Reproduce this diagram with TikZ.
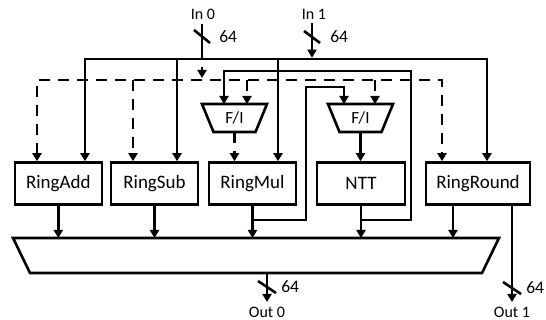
\documentclass[tikz,border=0pt]{standalone}
\usepackage{fontspec}
\setmainfont{Carlito}
\usetikzlibrary{arrows.meta,calc}
\begin{document}
\begin{tikzpicture}[x=1pt,y=-1pt,
  line width=2.6pt, line cap=butt, line join=miter,
  >={Triangle[length=8pt,width=9pt]},
  blk/.style={draw, minimum height=42pt, inner sep=0pt, font=\fontsize{19}{19}\selectfont},
  fibox/.style={minimum width=65pt, minimum height=28pt, inner sep=0pt, outer sep=0pt, font=\fontsize{17}{17}\selectfont},
  muxbox/.style={minimum width=486pt, minimum height=35pt, inner sep=0pt, outer sep=0pt},
  dsh/.style={dash pattern=on 11pt off 8pt},
  lab/.style={inner sep=0pt, font=\fontsize{16}{16}\selectfont},
  wlab/.style={inner sep=0pt, font=\fontsize{17.5}{17.5}\selectfont},
  slash/.style={line width=2.6pt}]
\useasboundingbox (0,0) rectangle (546,320);

% blocks
\node[blk, minimum width=87pt] (add) at (58.3,183.5) {RingAdd};
\node[blk, minimum width=87pt] (sub) at (154.5,183.5) {RingSub};
\node[blk, minimum width=87pt] (mul) at (252.5,183.5) {RingMul};
\node[blk, minimum width=88pt] (ntt) at (361,183.5) {NTT};
\node[blk, minimum width=104pt] (rnd) at (478,183.5) {RingRound};

% F/I units
\node[fibox] (fi1) at (234.5,118) {F/I};
\draw (fi1.north west) -- (fi1.north east) -- ($(fi1.south east)+(-11.5,0)$) -- ($(fi1.south west)+(11.5,0)$) -- cycle;
\node[fibox] (fi2) at (360.5,118) {F/I};
\draw (fi2.north west) -- (fi2.north east) -- ($(fi2.south east)+(-11.5,0)$) -- ($(fi2.south west)+(11.5,0)$) -- cycle;

% output mux
\node[muxbox] (mux) at (256,255.5) {};
\draw (mux.north west) -- (mux.north east) -- ($(mux.south east)+(-17,0)$) -- ($(mux.south west)+(17,0)$) -- cycle;

% coordinates
\coordinate (sA) at (85,59);
\coordinate (sS) at (177,59);
\coordinate (sM) at (278,59);
\coordinate (sR) at (487,59);
\coordinate (dA) at (37,80);
\coordinate (dS) at (133,80);
\coordinate (dF1) at (247,80);
\coordinate (dF2) at (375,80);
\coordinate (dR) at (442,80);
\coordinate (in0) at (202,24);
\coordinate (in0b) at (202,59);
\coordinate (in1) at (312,23);
\coordinate (fbj) at (411,220);
\coordinate (fbt) at (411,71);
\coordinate (fbl) at (224,71);
\coordinate (mbj) at (306,220);
\coordinate (mbt) at (306,87);
\coordinate (mbr) at (344,87);
\coordinate (rO) at (453,0);
\coordinate (o0) at (267,302);
\coordinate (o1) at (512,302);

% input labels
\node[lab] (tin0) at (203,14) {In 0};
\node[lab] (tin1) at (314,14) {In 1};
\node[wlab, anchor=west] (w0) at (218,37) {64};
\node[wlab, anchor=west] (w1) at (329,37) {64};

% In 0 -> dashed bus
\draw (in0) -- (in0b);
\draw[slash] (194,30) -- (210,43);
\draw[dsh, dash phase=11pt, ->] (in0b) -- ($(in0b |- dA)+(0,-2)$);

% In 1 -> solid bus
\draw[->] (in1) -- ($(in1 |- sA)+(0,-1.3)$);
\draw[slash] (304,31) -- (320,43);

% solid bus
\draw[<->] (add.north -| sA) -- (sA) -- (sR) -- (rnd.north -| sR);
\draw[->] (sS) -- (sS |- sub.north);
\draw[->] (sM) -- (sM |- mul.north);

% dashed bus
\draw[dsh, <->] (add.north -| dA) -- (dA) -- (dR) -- (rnd.north -| dR);
\draw[dsh, ->] (dS) -- (dS |- sub.north);
\draw[dsh, ->] (dF1) -- (dF1 |- fi1.north);
\draw[dsh, ->] (dF2) -- (dF2 |- fi2.north);

% F/I outputs
\draw[dsh, ->] (fi1.south) -- (fi1.south |- mul.north);
\draw[->] (fi2.south) -- (fi2.south |- ntt.north);

% block outputs to mux
\draw[->] (add.south) -- (add.south |- mux.north);
\draw[->] (sub.south) -- (sub.south |- mux.north);
\draw[->] (mul.south) -- (mul.south |- mux.north);
\draw[->] (ntt.south) -- (ntt.south |- mux.north);
\draw[->] (rO |- rnd.south) -- (rO |- mux.north);

% feedback paths
\draw[->] (ntt.south |- fbj) -- (fbj) -- (fbt) -- (fbl) -- (fbl |- fi1.north);
\draw[->] (mul.south |- mbj) -- (mbj) -- (mbt) -- (mbr) -- (mbr |- fi2.north);

% outputs
\draw[->] (mux.south -| o0) -- (o0);
\draw[slash] (258,281) -- (276,293);
\node[wlab, anchor=west] (w2) at (280,287) {64};
\node[lab] (tout0) at (267,312) {Out 0};

\draw[->] (o1 |- rnd.south) -- (o1);
\draw[slash] (503,282) -- (521,294);
\node[wlab, anchor=west] (w3) at (525,288) {64};
\node[lab] (tout1) at (512,312) {Out 1};
\end{tikzpicture}
\end{document}
